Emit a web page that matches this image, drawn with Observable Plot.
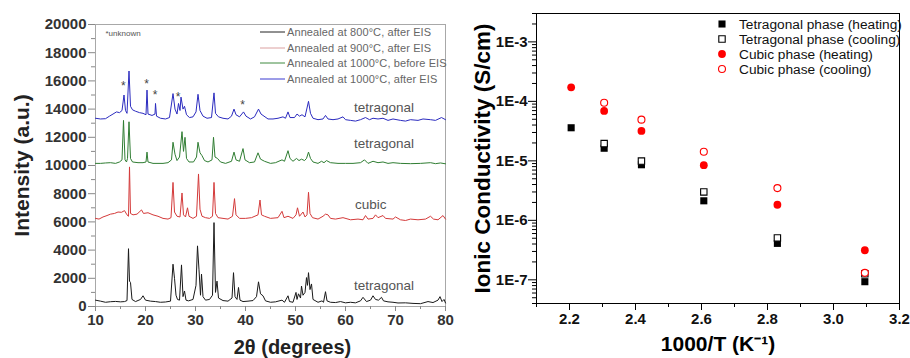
<!DOCTYPE html>
<html>
<head>
<meta charset="utf-8">
<script src="https://cdn.jsdelivr.net/npm/d3@7"></script>
<script src="https://cdn.jsdelivr.net/npm/@observablehq/plot@0.6"></script>
<style>
  html, body { margin: 0; padding: 0; background: #fff; }
  #wrap { display: flex; width: 910px; height: 358px; overflow: hidden; }
  svg { font-family: "Liberation Sans", Arial, sans-serif; }
</style>
</head>
<body>
<div id="wrap"></div>
<script>
// ---------- Left panel: XRD patterns (2θ, intensity) ----------
const xrd800 = [[10,450],[11,380],[12,300],[13,340],[14,360],[15,330],[15.8,350],[16.3,420],[16.6,4100],[16.8,1800],[17.0,1700],[17.3,500],[18,350],[19,500],[19.5,760],[20,450],[21,380],[22,350],[23,300],[24,320],[25,380],[25.5,3000],[25.8,2000],[26.1,800],[26.4,500],[26.8,450],[27.2,2950],[27.5,700],[27.8,1100],[28.1,450],[28.6,400],[29.5,500],[30.1,1500],[30.4,4300],[30.7,2600],[31.0,800],[31.2,2300],[31.5,700],[32,450],[32.8,500],[33.4,800],[33.7,5950],[34.0,1000],[34.3,1800],[34.6,600],[35.5,420],[36.5,380],[37.3,600],[37.6,2400],[37.9,700],[38.3,500],[38.6,1350],[38.9,450],[39.5,350],[40.5,380],[41.5,420],[42.2,700],[42.6,1750],[43.0,900],[43.5,760],[44,400],[45,300],[46,330],[47.3,450],[47.8,300],[48.5,760],[48.8,350],[49.5,300],[50.1,1000],[50.3,500],[50.6,900],[51.0,600],[51.2,1450],[51.5,800],[51.9,1000],[52.2,2050],[52.4,1500],[52.6,2400],[52.9,1200],[53.2,1600],[53.5,500],[54.5,300],[55.3,400],[55.6,300],[56.0,1050],[56.3,400],[57,300],[58,280],[59,350],[60,260],[61,300],[62,260],[63,400],[63.5,650],[64.2,350],[65,450],[65.5,760],[66,500],[66.6,450],[67.2,650],[67.6,400],[68.5,330],[69.5,300],[70.5,250],[72,260],[73.5,220],[75,200],[76.5,350],[77.5,280],[78.5,450],[78.9,700],[79.3,350],[79.7,500],[80,250]];
const xrd900 = [[10,6250],[10.7,6200],[11.5,6350],[12.3,6450],[13,6550],[13.8,6600],[14.5,6700],[15.2,6680],[15.8,6800],[16.3,6500],[16.6,6400],[16.8,9900],[17.0,6600],[17.5,6500],[18.3,6550],[19.2,6850],[19.6,6600],[20.5,6650],[21.5,6500],[22.5,6400],[23.5,6250],[24.5,6200],[25.1,6300],[25.5,8800],[25.8,6700],[26.3,6400],[26.9,6350],[27.3,8050],[27.6,6500],[28.0,6350],[28.4,7000],[28.7,6400],[29.5,6250],[30.2,6400],[30.6,9400],[30.9,6900],[31.3,6400],[32,6300],[32.8,6250],[33.4,6400],[33.7,8800],[34.0,6600],[34.5,6300],[35.5,6250],[36.5,6200],[37.4,6400],[37.8,7650],[38.1,6500],[38.8,6250],[40,6250],[41.2,6300],[42.5,6500],[42.9,7550],[43.2,6500],[43.8,6400],[45,6250],[46.5,6300],[47.3,6750],[47.7,6300],[48.5,6400],[49.5,6250],[50.1,6500],[50.4,7000],[50.8,6400],[51.5,6700],[51.9,6350],[52.3,6500],[52.6,8100],[52.9,6600],[53.4,6300],[54.5,6200],[55.5,6400],[56.0,6550],[56.5,6500],[57,6250],[58,6200],[59.5,6300],[61,6150],[62.5,6200],[63.5,6150],[64,6450],[64.5,6200],[65.5,6250],[66,6500],[66.5,6300],[67.5,6450],[68,6250],[69.5,6200],[70,6350],[71,6150],[72,6100],[73,6200],[74.5,6150],[76,6200],[77,6400],[77.6,6200],[78.5,6150],[79.5,6450],[80,6200]];
const xrd1000before = [[10,10150],[11,10150],[12,10180],[13,10200],[14,10150],[14.8,10250],[15.3,10400],[15.6,13200],[15.9,10400],[16.2,10250],[16.4,10500],[16.7,13100],[17.0,10500],[17.4,10250],[18.5,10200],[19.5,10200],[20.1,10250],[20.3,10950],[20.5,10250],[21.5,10150],[22.5,10150],[23.5,10150],[24.5,10200],[25.2,10400],[25.5,11650],[25.9,10800],[26.3,10350],[26.8,10600],[27.3,12400],[27.6,11000],[27.9,12000],[28.2,10500],[28.7,10250],[29.6,10250],[30.2,10600],[30.5,11650],[30.9,10900],[31.3,10700],[31.8,10350],[32.5,10250],[33.3,10400],[33.6,12000],[33.9,10600],[34.4,10500],[35,10250],[36,10150],[37.2,10300],[37.7,10950],[38.1,10400],[38.8,10300],[39.5,11200],[39.9,10400],[40.8,10200],[41.8,10250],[42.5,10900],[43.0,10450],[43.8,10300],[45,10150],[46,10200],[47.3,10400],[47.8,10300],[48.5,11050],[48.9,10500],[49.5,10300],[50.2,10500],[50.7,10350],[51.2,10450],[51.8,10350],[52.2,10500],[52.6,10950],[53.0,10500],[53.5,10250],[54.5,10150],[55.2,10300],[55.7,10200],[56.2,10350],[57,10200],[58.5,10150],[60,10150],[61.5,10150],[63,10200],[63.8,10400],[64.5,10150],[65.5,10300],[66.5,10200],[67.5,10250],[68.5,10150],[69.5,10200],[71,10150],[73,10130],[75,10150],[77,10200],[78,10130],[79,10180],[80,10120]];
const xrd1000after = [[10,13350],[11,13300],[12,13320],[12.8,13500],[13.5,13650],[14.2,13800],[14.8,13750],[15.3,13900],[15.7,15000],[16.0,13900],[16.3,13700],[16.7,16700],[17.0,14200],[17.4,13950],[18,13850],[18.8,13750],[19.5,13700],[20.1,13600],[20.3,15350],[20.5,13650],[21.3,13550],[21.9,13650],[22.0,14400],[22.2,13500],[23,13350],[24,13300],[24.8,13400],[25.5,15100],[25.9,14000],[26.3,13650],[26.6,14400],[26.9,13900],[27.1,14850],[27.5,14000],[27.8,14200],[28.2,13600],[28.8,13400],[29.5,13450],[30.1,13800],[30.5,15050],[30.9,13900],[31.5,13500],[32.3,13350],[33.2,13400],[33.7,15150],[34.0,13700],[34.6,13450],[35.5,13350],[36.5,13300],[37.2,13500],[37.7,14000],[38.1,13600],[38.8,13450],[39.6,13800],[40.1,13500],[41,13300],[41.8,13450],[42.6,14000],[43.1,13650],[43.7,13500],[44.5,13300],[45.5,13300],[46.5,13350],[47.5,13450],[48.0,13350],[48.5,13800],[48.9,13400],[49.8,13400],[50.3,13650],[50.8,13500],[51.3,13600],[51.9,13450],[52.6,14550],[53.0,13700],[53.5,13350],[54.5,13250],[55.5,13300],[56.0,13550],[56.5,13300],[57.5,13250],[58.5,13300],[59.5,13450],[60,13250],[61,13200],[62,13150],[63,13250],[64,13400],[64.8,13250],[65.5,13350],[66.5,13300],[67.5,13350],[68.5,13200],[69.5,13300],[71,13200],[72,13150],[73,13250],[74.5,13200],[75.5,13300],[77,13250],[78,13200],[79.2,13400],[80,13250]];

const xrdNames = ["Annealed at 800°C, after EIS","Annealed at 900°C, after EIS","Annealed at 1000°C, before EIS","Annealed at 1000°C, after EIS"];
const phaseLabels = ["tetragonal","tetragonal","cubic","tetragonal"];
const phaseLabelX = [61.7, 61.7, 61.9, 61.7];
const phaseLabelY = [14100, 11550, 7250, 1500];
const starX = [15.55, 20.2, 21.9, 26.5, 39.4];
const starY = [15600, 15800, 15000, 14850, 14250];
const xrdXTicks = [10,20,30,40,50,60,70,80];
const xrdYTicks = [0,2000,4000,6000,8000,10000,12000,14000,16000,18000,20000];

// ---------- Right panel: conductivity vs 1000/T ----------
const invT = [2.205, 2.305, 2.418, 2.607, 2.830, 3.095];
const tetraHeating = [3.6e-5, 1.63e-5, 8.6e-6, 2.13e-6, 4.1e-7, 9.3e-8];
const tetraCooling = [null, 1.95e-5, 9.9e-6, 3.0e-6, 5.06e-7, 1.26e-7];
const cubicHeating = [1.72e-4, 6.9e-5, 3.18e-5, 8.45e-6, 1.83e-6, 3.14e-7];
const cubicCooling = [null, 9.5e-5, 4.93e-5, 1.42e-5, 3.48e-6, 1.31e-7];
const condNames = ["Tetragonal phase (heating)","Tetragonal phase (cooling)","Cubic phase (heating)","Cubic phase (cooling)"];
const condXTicks = [2.2, 2.4, 2.6, 2.8, 3.0, 3.2];
const condYTicks = [1e-7, 1e-6, 1e-5, 1e-4, 1e-3];

const FONT = "Liberation Sans, Arial, sans-serif";
const xrdColors = ["#1a1a1a", "#d43a3a", "#2f7d32", "#2b2bbf"];
const xrdLegendColors = ["#222", "#dba0a0", "#3f8a3f", "#3a3ad0"];
const xrdSeries = [xrd800, xrd900, xrd1000before, xrd1000after];

const rows = (arr) => arr.map(([x, y]) => ({x, y}));
const minorX1 = d3.range(15, 80, 10);
const minorY1 = d3.range(1000, 20000, 2000);

const left = Plot.plot({
  width: 460, height: 358,
  marginLeft: 95, marginRight: 15, marginTop: 24, marginBottom: 52,
  style: {fontFamily: FONT, background: "#fff"},
  x: {domain: [10, 80]},
  y: {domain: [0, 20000]},
  marks: [
    Plot.frame({stroke: "#a8a8a8"}),
    Plot.axisY({ticks: minorY1, tickSize: 4, stroke: "#888", tickFormat: () => "", label: null}),
    Plot.axisY({ticks: xrdYTicks, tickSize: 7, tickPadding: 2, stroke: "#888", fill: "#333", fontSize: 15, fontWeight: "bold", tickFormat: d => String(d), label: null}),
    Plot.axisX({ticks: minorX1, tickSize: 3, stroke: "#888", tickFormat: () => "", label: null}),
    Plot.axisX({ticks: xrdXTicks, tickSize: 5, tickPadding: 3, stroke: "#888", fill: "#333", fontSize: 15, fontWeight: "bold", tickFormat: d => String(d), label: null}),
    ...xrdSeries.map((s, i) => Plot.line(rows(s), {x: "x", y: "y", stroke: xrdColors[i], strokeWidth: 1})),
    Plot.text(starX.map((x, i) => ({x, y: starY[i]})), {x: "x", y: "y", text: () => "*", fontSize: 12, fill: "#444"}),
    Plot.text(phaseLabels.map((t, i) => ({t, x: phaseLabelX[i], y: phaseLabelY[i]})), {x: "x", y: "y", text: "t", textAnchor: "start", fontSize: 13.5, fill: "#555"}),
    Plot.text(["Intensity (a.u.)"], {frameAnchor: "left", dx: -73, rotate: -90, textAnchor: "middle", lineAnchor: "middle", fontSize: 21, fontWeight: "bold", fill: "#222"}),
    Plot.text(["2θ (degrees)"], {frameAnchor: "bottom", dx: 22, dy: 41, textAnchor: "middle", lineAnchor: "middle", fontSize: 20, fontWeight: "bold", fill: "#222"}),
    Plot.text(["*unknown"], {frameAnchor: "top-left", dx: 10, dy: 9, textAnchor: "start", lineAnchor: "middle", fontSize: 8, fill: "#555"})
  ]
});

// left legend
{
  const svg = d3.select(left);
  const g = svg.append("g").attr("font-family", FONT).attr("text-anchor", "start");
  const ys = [32, 48, 63, 79];
  xrdNames.forEach((name, i) => {
    g.append("line").attr("x1", 260).attr("x2", 285).attr("y1", ys[i]).attr("y2", ys[i])
      .attr("stroke", xrdLegendColors[i]).attr("stroke-width", 1);
    g.append("text").attr("x", 287).attr("y", ys[i]).attr("dy", "0.35em")
      .attr("text-anchor", "start")
      .attr("font-size", 11).attr("letter-spacing", "0.1px").attr("fill", "#666").text(name);
  });
}

// right panel
const condRows = (vals) => invT.map((x, i) => ({x, y: vals[i]})).filter(d => d.y != null);
const minorYLog = [];
for (let e = -8; e <= -3; e++) for (let m = 2; m <= 9; m++) {
  const v = m * Math.pow(10, e);
  if (v >= 4e-8 && v <= 3e-3) minorYLog.push(v);
}
const minorX2 = [2.1, 2.3, 2.5, 2.7, 2.9, 3.1];

const right = Plot.plot({
  width: 450, height: 358,
  marginLeft: 76, marginRight: 11, marginTop: 13, marginBottom: 55,
  style: {fontFamily: FONT, background: "#fff", overflow: "hidden"},
  x: {domain: [2.1, 3.2]},
  y: {type: "log", domain: [4e-8, 3e-3]},
  marks: [
    Plot.frame({stroke: "#000"}),
    Plot.axisY({ticks: minorYLog, tickSize: 4, stroke: "#000", tickFormat: () => "", label: null}),
    Plot.axisY({ticks: condYTicks, tickSize: 8, tickPadding: 1, stroke: "#000", fill: "#111", fontSize: 15, fontWeight: "bold", tickFormat: d => "1E" + Math.round(Math.log10(d)), label: null}),
    Plot.axisX({ticks: minorX2, tickSize: 4, stroke: "#000", tickFormat: () => "", label: null}),
    Plot.axisX({ticks: condXTicks, tickSize: 7, tickPadding: 3, stroke: "#000", fill: "#111", fontSize: 15, fontWeight: "bold", tickFormat: d3.format(".1f"), label: null}),
    Plot.dot(condRows(tetraHeating), {x: "x", y: "y", symbol: "square", r: 4, fill: "#000"}),
    Plot.dot(condRows(tetraCooling), {x: "x", y: "y", symbol: "square", r: 3.6, fill: "#fff", stroke: "#000", strokeWidth: 1.1}),
    Plot.dot(condRows(cubicHeating), {x: "x", y: "y", symbol: "circle", r: 3.9, fill: "#f00"}),
    Plot.dot(condRows(cubicCooling), {x: "x", y: "y", symbol: "circle", r: 3.5, fill: "#fff", stroke: "#f00", strokeWidth: 1.1}),
    Plot.text(["Ionic Conductivity (S/cm)"], {frameAnchor: "left", dx: -54, rotate: -90, textAnchor: "middle", lineAnchor: "middle", fontSize: 22.5, fontWeight: "bold", fill: "#000"}),
    Plot.text(["1000/T (K⁻¹)"], {frameAnchor: "bottom", dx: 0, dy: 41, textAnchor: "middle", lineAnchor: "middle", fontSize: 21, fontWeight: "bold", fill: "#000"})
  ]
});

// right legend
{
  const svg = d3.select(right);
  const g = svg.append("g").attr("font-family", FONT).attr("text-anchor", "start");
  const ys = [24, 39, 54, 69];
  const mx = 262, tx = 279;
  const sym = [
    {type: d3.symbolSquare, size: 50, fill: "#000", stroke: "none"},
    {type: d3.symbolSquare, size: 41, fill: "#fff", stroke: "#000"},
    {type: d3.symbolCircle, size: 48, fill: "#f00", stroke: "none"},
    {type: d3.symbolCircle, size: 38, fill: "#fff", stroke: "#f00"}
  ];
  condNames.forEach((name, i) => {
    g.append("path").attr("d", d3.symbol(sym[i].type, sym[i].size)())
      .attr("transform", `translate(${mx},${ys[i]})`)
      .attr("fill", sym[i].fill).attr("stroke", sym[i].stroke).attr("stroke-width", 1.1);
    g.append("text").attr("x", tx).attr("y", ys[i]).attr("dy", "0.35em")
      .attr("text-anchor", "start")
      .attr("font-size", 13.7).attr("fill", "#111").text(name);
  });
}

const wrap = document.getElementById("wrap");
wrap.appendChild(left);
wrap.appendChild(right);
</script>
</body>
</html>
